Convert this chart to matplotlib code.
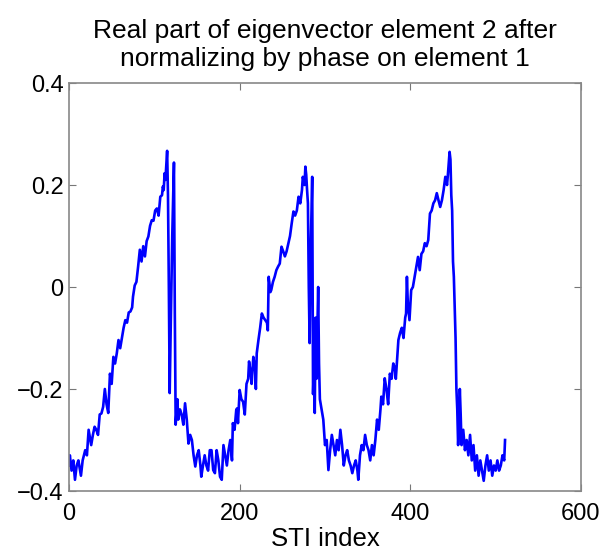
import matplotlib as mpl
mpl.rcParams['font.family'] = ['Liberation Sans', 'DejaVu Sans']
import matplotlib.pyplot as plt

# STI index and real part
sti_idx = [0, 1, 3, 5, 7, 9, 11, 13, 14, 16, 19, 21, 23, 25, 26, 28, 30, 32, 34, 36,
           38, 40, 42, 44, 46, 48, 50, 52, 54, 56, 58, 60, 62, 64, 66, 68, 70, 72, 74, 75,
           77, 79, 81, 83, 85, 87, 89, 91, 93, 95, 97, 99, 101, 103, 105, 107, 109, 110, 111, 112,
           113, 114, 115, 116, 117, 118, 119, 121, 123, 124, 125, 127, 128, 130, 132, 134, 136, 138, 140, 142,
           144, 146, 148, 150, 152, 154, 155, 157, 159, 161, 163, 165, 167, 169, 171, 173, 175, 177, 179, 181,
           183, 185, 187, 189, 191, 192, 194, 196, 197, 198, 200, 202, 204, 206, 208, 210, 211, 213, 214, 216,
           218, 219, 220, 222, 224, 226, 228, 230, 232, 233, 234, 236, 237, 239, 241, 243, 245, 247, 249, 251,
           253, 255, 257, 259, 261, 263, 265, 267, 269, 271, 273, 274, 276, 277, 278, 279, 280, 281, 282, 283,
           285, 286, 287, 288, 289, 290, 292, 293, 294, 296, 298, 300, 302, 304, 306, 308, 310, 312, 314, 316,
           318, 320, 322, 324, 326, 328, 330, 332, 334, 336, 338, 339, 341, 343, 345, 347, 349, 351, 353, 355,
           357, 359, 361, 363, 365, 366, 368, 370, 372, 374, 376, 378, 380, 382, 383, 385, 386, 388, 390, 392,
           394, 395, 396, 397, 399, 401, 403, 405, 407, 409, 411, 413, 415, 417, 419, 421, 423, 425, 427, 429,
           431, 433, 435, 437, 439, 441, 443, 444, 446, 447, 448, 449, 450, 451, 452, 453, 454, 455, 456, 457,
           458, 459, 460, 462, 464, 466, 468, 470, 472, 474, 476, 478, 480, 482, 484, 486, 488, 490, 492, 494,
           496, 498, 500, 502, 504, 506, 508, 510, 511]
real_part = [-0.35, -0.33, -0.36, -0.34, -0.378, -0.35, -0.34, -0.36, -0.37, -0.34, -0.32, -0.33, -0.28, -0.30, -0.31, -0.29, -0.274, -0.28, -0.29, -0.25,
             -0.248, -0.235, -0.20, -0.23, -0.247, -0.17, -0.19, -0.137, -0.15, -0.13, -0.104, -0.12, -0.10, -0.08, -0.065, -0.07, -0.05, -0.048, -0.04, -0.019,
             0.003, 0.01, 0.04, 0.073, 0.05, 0.08, 0.06, 0.09, 0.099, 0.12, 0.131, 0.13, 0.15, 0.154, 0.14, 0.177, 0.18, 0.197, 0.19, 0.223,
             0.21, 0.24, 0.267, 0.18, 0.0, -0.208, -0.10, 0.10, 0.244, -0.05, -0.27, -0.22, -0.26, -0.24, -0.25, -0.27, -0.228, -0.26, -0.307, -0.29,
             -0.30, -0.33, -0.352, -0.33, -0.32, -0.35, -0.372, -0.35, -0.33, -0.35, -0.36, -0.32, -0.32, -0.359, -0.365, -0.32, -0.34, -0.372, -0.378, -0.31,
             -0.33, -0.35, -0.32, -0.30, -0.34, -0.267, -0.28, -0.241, -0.238, -0.267, -0.202, -0.22, -0.225, -0.25, -0.19, -0.18, -0.146, -0.17, -0.19, -0.137,
             -0.16, -0.20, -0.13, -0.104, -0.08, -0.052, -0.06, -0.065, -0.07, -0.085, 0.02, -0.01, -0.006, 0.01, 0.02, 0.033, 0.04, 0.046, 0.079, 0.07,
             0.06, 0.07, 0.085, 0.10, 0.125, 0.148, 0.14, 0.15, 0.177, 0.164, 0.19, 0.216, 0.20, 0.236, 0.22, 0.19, 0.164, 0.0, -0.11, 0.05,
             0.216, -0.21, -0.15, -0.247, -0.06, -0.18, 0.0, -0.15, -0.22, -0.24, -0.26, -0.31, -0.30, -0.359, -0.32, -0.29, -0.31, -0.33, -0.30, -0.32,
             -0.28, -0.31, -0.35, -0.33, -0.32, -0.34, -0.35, -0.365, -0.35, -0.34, -0.36, -0.378, -0.33, -0.31, -0.32, -0.29, -0.31, -0.32, -0.34, -0.31,
             -0.33, -0.30, -0.26, -0.28, -0.24, -0.215, -0.23, -0.179, -0.20, -0.23, -0.17, -0.18, -0.15, -0.16, -0.18, -0.13, -0.104, -0.09, -0.08, -0.10,
             -0.06, -0.052, 0.02, -0.03, -0.065, -0.006, 0.0, 0.02, 0.04, 0.059, 0.033, 0.065, 0.07, 0.086, 0.08, 0.092, 0.144, 0.15, 0.164, 0.17,
             0.184, 0.17, 0.157, 0.17, 0.19, 0.216, 0.2, 0.22, 0.265, 0.25, 0.18, 0.15, 0.05, 0.02, -0.04, -0.10, -0.20, -0.24, -0.31, -0.27,
             -0.20, -0.25, -0.31, -0.28, -0.32, -0.30, -0.33, -0.29, -0.34, -0.31, -0.36, -0.33, -0.37, -0.34, -0.36, -0.38, -0.35, -0.33, -0.36, -0.34,
             -0.37, -0.35, -0.36, -0.34, -0.36, -0.35, -0.33, -0.34, -0.30]

xticks = [0, 200, 400, 600]
xtick_labels = ['0', '200', '400', '600']
yticks = [-0.4, -0.2, 0, 0.2, 0.4]
ytick_labels = ['\u22120.4', '\u22120.2', '0', '0.2', '0.4']

fig = plt.figure(figsize=(6.06, 5.5), dpi=100)
ax = fig.add_axes([69/606, 1 - 491/550, 512/606, 408/550])

ax.plot(sti_idx, real_part, color='#0000ff', lw=1.9)

ax.set_xlim(0, 600)
ax.set_ylim(-0.4, 0.4)
ax.set_xticks(xticks)
ax.set_xticklabels(xtick_labels)
ax.set_yticks(yticks)
ax.set_yticklabels(ytick_labels)

ax.tick_params(direction='in', length=5, width=0.8, colors='#777777',
               labelcolor='black', labelsize=17, top=True, right=True, pad=4)
ax.tick_params(axis='x', pad=9)
for s in ax.spines.values():
    s.set_color('#888888')
    s.set_linewidth(1.2)

ax.set_xlabel('STI index', fontsize=18.5, labelpad=1)
ax.set_title('Real part of eigenvector element 2 after\nnormalizing by phase on element 1',
             fontsize=19, pad=12, linespacing=1.25)

fig.savefig('out.png', dpi=100)
